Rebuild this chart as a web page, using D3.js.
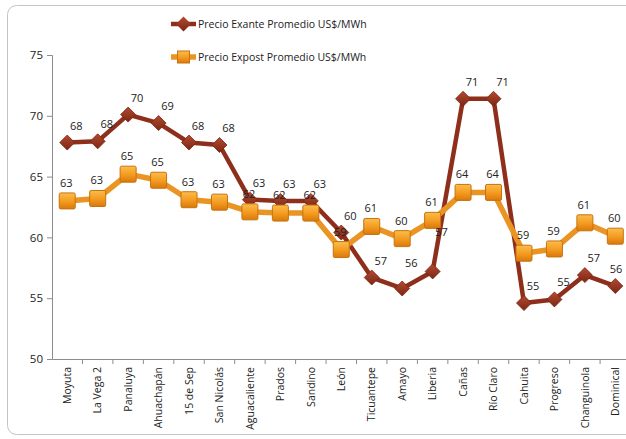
<!DOCTYPE html>
<html>
<head>
<meta charset="utf-8">
<script src="https://cdn.jsdelivr.net/npm/d3@7"></script>
<style>
  body { margin: 0; background: #fff; }
  svg { display: block; font-family: "Open Sans", "Noto Sans", sans-serif; }
</style>
</head>
<body>
<div id="chart"></div>
<script>
// Categories (plants)
const categories = ["Moyuta", "La Vega 2", "Panaluya", "Ahuachapán", "15 de Sep", "San Nicolás",
    "Aguacaliente", "Prados", "Sandino", "León", "Ticuantepe", "Amayo", "Liberia", "Cañas",
    "Río Claro", "Cahuita", "Progreso", "Changuinola", "Dominical"];

// Series values (US$/MWh)
const exante = [67.8, 67.9, 70.1, 69.4, 67.8, 67.6, 63.1, 63.0, 63.0, 60.4, 56.7, 55.8, 57.2,
    71.4, 71.4, 54.6, 54.9, 56.9, 56.0];
const expost = [63.0, 63.2, 65.2, 64.7, 63.1, 62.9, 62.1, 62.0, 62.0, 59.0, 60.9, 59.9, 61.4,
    63.7, 63.7, 58.7, 59.05, 61.2, 60.1];

const seriesNames = ["Precio Exante Promedio US$/MWh", "Precio Expost Promedio US$/MWh"];
const yTicks = [50, 55, 60, 65, 70, 75];

const width = 626, height = 439;
const margin = { left: 52, top: 55, bottom: 80 };
const bandW = 30.45;

// a couple of labels were moved by hand in the original
const exanteLabelLift = { "Liberia": 22, "Amayo": 8 };

const svg = d3.select("#chart").append("svg")
    .attr("width", width)
    .attr("height", height);

// Gradients for markers
const defs = svg.append("defs");
const gRed = defs.append("linearGradient").attr("id", "gRed")
    .attr("x1", 0).attr("y1", 0).attr("x2", 0).attr("y2", 1);
gRed.append("stop").attr("offset", "0%").attr("stop-color", "#b34a30");
gRed.append("stop").attr("offset", "100%").attr("stop-color", "#7c2615");
const gOr = defs.append("linearGradient").attr("id", "gOr")
    .attr("x1", 0).attr("y1", 0).attr("x2", 0).attr("y2", 1);
gOr.append("stop").attr("offset", "0%").attr("stop-color", "#fbbd4c");
gOr.append("stop").attr("offset", "55%").attr("stop-color", "#f39a1e");
gOr.append("stop").attr("offset", "100%").attr("stop-color", "#d9780c");

// Chart frame
svg.append("rect")
    .attr("x", 7.5).attr("y", 5.5)
    .attr("width", 700).attr("height", 429)
    .attr("rx", 9)
    .attr("fill", "none")
    .attr("stroke", "#c4c4c4");

const x = d3.scaleBand()
    .domain(categories)
    .range([margin.left, margin.left + bandW * categories.length]);

const y = d3.scaleLinear()
    .domain([50, 75])
    .range([height - margin.bottom, margin.top]);

// Y axis
const yAxis = svg.append("g")
    .attr("transform", `translate(${margin.left},0)`)
    .call(d3.axisLeft(y).tickValues(yTicks).tickSize(5).tickPadding(4));
yAxis.select(".domain").attr("stroke", "#8c8c8c");
yAxis.selectAll(".tick line").attr("stroke", "#8c8c8c");
yAxis.selectAll("text").attr("font-size", "11.5px").attr("fill", "#222")
    .attr("font-family", "Open Sans, sans-serif");

// X axis
const xAxis = svg.append("g")
    .attr("transform", `translate(0,${height - margin.bottom})`)
    .call(d3.axisBottom(x).tickSize(0).tickSizeOuter(0));
xAxis.select(".domain").attr("stroke", "#8c8c8c");
xAxis.selectAll("text")
    .attr("font-size", "10.5px")
    .attr("fill", "#222")
    .attr("font-family", "Open Sans, sans-serif")
    .attr("transform", "rotate(-90)")
    .attr("text-anchor", "end")
    .attr("x", -8)
    .attr("y", 0)
    .attr("dy", "0.35em");
// boundary ticks
svg.append("g").selectAll("line")
    .data(categories)
    .join("line")
    .attr("x1", d => x(d) + x.bandwidth())
    .attr("x2", d => x(d) + x.bandwidth())
    .attr("y1", height - margin.bottom)
    .attr("y2", height - margin.bottom + 5)
    .attr("stroke", "#8c8c8c");

const cx = d => x(d) + x.bandwidth() / 2;
const line = d3.line()
    .x((d, i) => cx(categories[i]))
    .y(d => y(d));

// Exante series
svg.append("path")
    .datum(exante)
    .attr("d", line)
    .attr("fill", "none")
    .attr("stroke", "#8e2f1c")
    .attr("stroke-width", 4.5)
    .attr("stroke-linejoin", "round");
const diamond = "M0,-7.5L7.5,0L0,7.5L-7.5,0Z";
svg.append("g").selectAll("path")
    .data(exante)
    .join("path")
    .attr("d", diamond)
    .attr("transform", (d, i) => `translate(${cx(categories[i])},${y(d)})`)
    .attr("fill", "url(#gRed)")
    .attr("stroke", "#7a2414")
    .attr("stroke-width", 0.8);

// Expost series
svg.append("path")
    .datum(expost)
    .attr("d", line)
    .attr("fill", "none")
    .attr("stroke", "#ea9424")
    .attr("stroke-width", 5.5)
    .attr("stroke-linejoin", "round");
svg.append("g").selectAll("rect")
    .data(expost)
    .join("rect")
    .attr("x", (d, i) => cx(categories[i]) - 8)
    .attr("y", d => y(d) - 8)
    .attr("width", 16)
    .attr("height", 16)
    .attr("rx", 1.5)
    .attr("fill", "url(#gOr)")
    .attr("stroke", "#c7720f")
    .attr("stroke-width", 1);

// Data labels
const fmt = d3.format(".0f");
svg.append("g").selectAll("text")
    .data(exante)
    .join("text")
    .attr("x", (d, i) => Math.min(cx(categories[i]) + 9, width - 10))
    .attr("y", (d, i) => y(d) - 13 - (exanteLabelLift[categories[i]] || 0))
    .attr("text-anchor", "middle")
    .attr("font-size", "11px")
    .attr("fill", "#222")
    .text(d => fmt(d));
svg.append("g").selectAll("text")
    .data(expost)
    .join("text")
    .attr("x", (d, i) => cx(categories[i]) - 1)
    .attr("y", d => y(d) - 14)
    .attr("text-anchor", "middle")
    .attr("font-size", "11px")
    .attr("fill", "#222")
    .text(d => fmt(d));

// Legend
const legend = svg.append("g").attr("transform", "translate(171,0)");
const legendY = [24, 57];
// exante entry
legend.append("line")
    .attr("x1", 0).attr("x2", 25).attr("y1", legendY[0]).attr("y2", legendY[0])
    .attr("stroke", "#8e2f1c").attr("stroke-width", 4.5);
legend.append("path")
    .attr("d", diamond)
    .attr("transform", `translate(12.5,${legendY[0]})`)
    .attr("fill", "url(#gRed)");
// expost entry
legend.append("line")
    .attr("x1", 0).attr("x2", 25).attr("y1", legendY[1]).attr("y2", legendY[1])
    .attr("stroke", "#ea9424").attr("stroke-width", 5.5);
legend.append("rect")
    .attr("x", 6.5).attr("y", legendY[1] - 6)
    .attr("width", 12).attr("height", 12)
    .attr("fill", "url(#gOr)")
    .attr("stroke", "#c7720f");
legend.selectAll("text.lbl")
    .data(seriesNames)
    .join("text")
    .attr("class", "lbl")
    .attr("x", 27)
    .attr("y", (d, i) => legendY[i])
    .attr("dy", "0.35em")
    .attr("font-size", "10.5px")
    .attr("fill", "#222")
    .text(d => d);
</script>
</body>
</html>
